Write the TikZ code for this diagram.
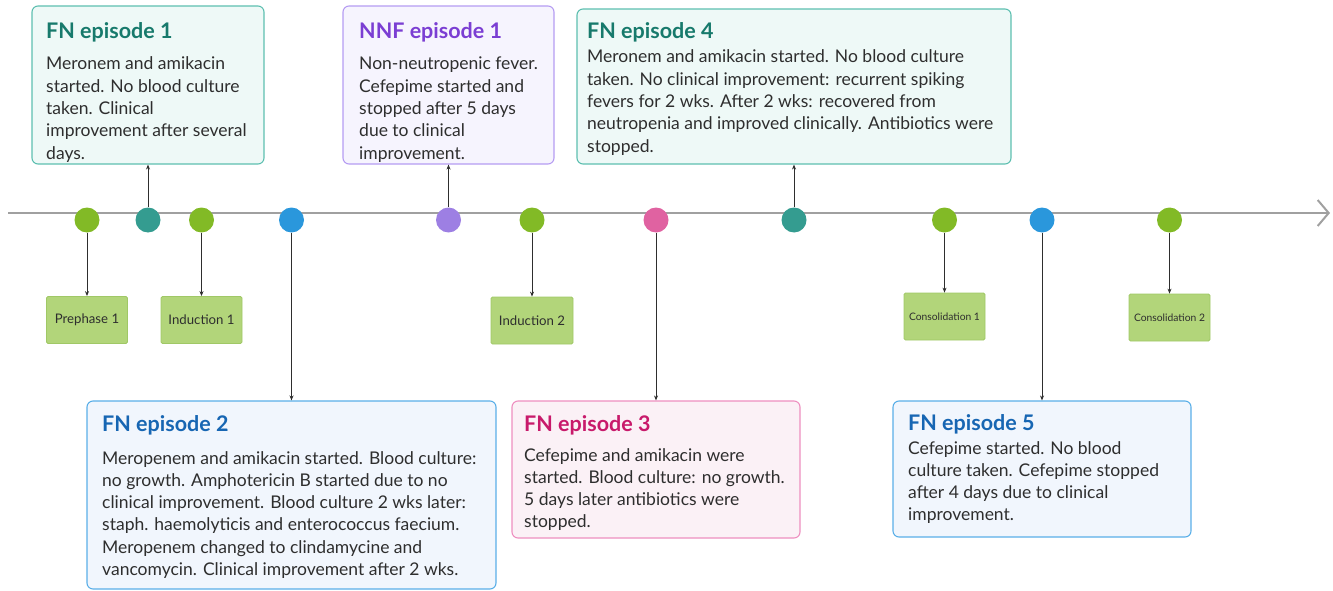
\documentclass[tikz,border=0pt]{standalone}
\usepackage{fontspec}
\setmainfont{Lato}
\usetikzlibrary{arrows.meta,calc}
\definecolor{cgreen}{HTML}{82BA26}
\definecolor{cteal}{HTML}{349C90}
\definecolor{cblue}{HTML}{2A97DC}
\definecolor{cpurple}{HTML}{9D7FE3}
\definecolor{cpink}{HTML}{E062A1}
\definecolor{sfill}{HTML}{B2D57A}
\definecolor{sdraw}{HTML}{A0C866}
\definecolor{tealB}{HTML}{5DBFB0}
\definecolor{tealF}{HTML}{EEF9F7}
\definecolor{tealT}{HTML}{177A6C}
\definecolor{purB}{HTML}{B59CF2}
\definecolor{purF}{HTML}{F6F4FE}
\definecolor{purT}{HTML}{7B3ED3}
\definecolor{bluB}{HTML}{5AAFE8}
\definecolor{bluF}{HTML}{F1F6FD}
\definecolor{bluT}{HTML}{1766B3}
\definecolor{pinB}{HTML}{EE8FC0}
\definecolor{pinF}{HTML}{FBF1F6}
\definecolor{pinT}{HTML}{C81A6B}
\definecolor{txt}{HTML}{2E2E2E}
\definecolor{axis}{HTML}{A0A0A0}
\newcommand{\mylines}[1]{\begin{tabular}[t]{@{}l@{}}#1\end{tabular}}
\tikzset{
  dot/.style={circle, inner sep=0pt, minimum size=25pt},
  ebox/.style={rectangle, rounded corners=6pt, line width=1.1pt, inner sep=0pt},
  phase/.style={rectangle, rounded corners=1.5pt, draw=sdraw, fill=sfill, line width=0.8pt,
    minimum width=81pt, minimum height=47pt, inner sep=0pt, text=txt},
  ttl/.style={anchor=base west, inner sep=0pt, font=\fontsize{21.5}{25}\selectfont\bfseries},
  body/.style={anchor=base west, inner sep=0pt, text=txt, font=\fontsize{17.5}{22.3}\selectfont},
  conn/.style={draw=txt, line width=1pt, -{Stealth[length=5pt,width=4pt]}},
}
\begin{document}
\begin{tikzpicture}[x=1pt,y=-1pt]
\useasboundingbox (0,0) rectangle (1333,591);
% timeline
\coordinate (t0) at (8,213);
\coordinate (t1) at (1330,213);
\draw[axis, line width=2.6pt, -{Straight Barb[length=11pt,width=26pt,line width=2pt]}] (t0) -- (t1);
% dots
\node[dot, fill=cgreen] (d1) at (87,220) {};
\node[dot, fill=cteal] (d2) at (148,220) {};
\node[dot, fill=cgreen] (d3) at (201.5,220) {};
\node[dot, fill=cblue] (d4) at (291.5,220) {};
\node[dot, fill=cpurple] (d5) at (448.5,220) {};
\node[dot, fill=cgreen] (d6) at (532,220) {};
\node[dot, fill=cpink] (d7) at (656,220) {};
\node[dot, fill=cteal] (d8) at (794,220) {};
\node[dot, fill=cgreen] (d9) at (944.5,220) {};
\node[dot, fill=cblue] (d10) at (1042,220) {};
\node[dot, fill=cgreen] (d11) at (1169.5,220) {};
% phase boxes
\node[phase, font=\fontsize{13.2}{15}\selectfont] (p1) at (87,320) {Prephase 1};
\node[phase, font=\fontsize{13.2}{15}\selectfont] (p2) at (201.5,320) {Induction 1};
\node[phase, font=\fontsize{13.2}{15}\selectfont, minimum width=82pt] (p3) at (532,320.5) {Induction 2};
\node[phase, font=\fontsize{10.3}{12}\selectfont] (p4) at (944.5,316.5) {Consolidation 1};
\node[phase, font=\fontsize{10.3}{12}\selectfont] (p5) at (1169.5,317.5) {Consolidation 2};
% episode boxes
\node[ebox, draw=tealB, fill=tealF, minimum width=232pt, minimum height=158pt] (e1) at (148,85) {};
\node[ebox, draw=purB, fill=purF, minimum width=211pt, minimum height=158pt] (e6) at (448.5,85) {};
\node[ebox, draw=tealB, fill=tealF, minimum width=434pt, minimum height=155pt] (e4) at (794,86.5) {};
\node[ebox, draw=bluB, fill=bluF, minimum width=409pt, minimum height=188pt] (e2) at (291.5,495) {};
\node[ebox, draw=pinB, fill=pinF, minimum width=288pt, minimum height=137pt] (e3) at (656,469.5) {};
\node[ebox, draw=bluB, fill=bluF, minimum width=298pt, minimum height=136pt] (e5) at (1042,469) {};
% texts
\node[ttl, text=tealT] (e1t) at (46,39) {FN episode 1};
\node[body] (e1b) at (46,70) {\mylines{Meronem and amikacin\\started. No blood culture\\taken. Clinical\\improvement after several\\days.}};
\node[ttl, text=purT] (e6t) at (359,39) {NNF episode 1};
\node[body] (e6b) at (359,70) {\mylines{Non-neutropenic fever.\\Cefepime started and\\stopped after 5 days\\due to clinical\\improvement.}};
\node[ttl, text=tealT] (e4t) at (587,39) {FN episode 4};
\node[body] (e4b) at (587,63) {\mylines{Meronem and amikacin started. No blood culture\\taken. No clinical improvement: recurrent spiking\\fevers for 2 wks. After 2 wks: recovered from\\neutropenia and improved clinically. Antibiotics were\\stopped.}};
\node[ttl, text=bluT] (e2t) at (102,431) {FN episode 2};
\node[body] (e2b) at (102,464) {\mylines{Meropenem and amikacin started. Blood culture:\\no growth. Amphotericin B started due to no\\clinical improvement. Blood culture 2 wks later:\\staph. haemolyticis and enterococcus faecium.\\Meropenem changed to clindamycine and\\vancomycin. Clinical improvement after 2 wks.}};
\node[ttl, text=pinT] (e3t) at (524,431) {FN episode 3};
\node[body] (e3b) at (524,461) {\mylines{Cefepime and amikacin were\\started. Blood culture: no growth.\\5 days later antibiotics were\\stopped.}};
\node[ttl, text=bluT] (e5t) at (908,430) {FN episode 5};
\node[body] (e5b) at (908,454) {\mylines{Cefepime started. No blood\\culture taken. Cefepime stopped\\after 4 days due to clinical\\improvement.}};
% connectors
\draw[conn] (d1) -- (p1);
\draw[conn] (d3) -- (p2);
\draw[conn] (d6) -- (p3);
\draw[conn] (d9) -- (p4);
\draw[conn] (d11) -- (p5);
\draw[conn] (d2) -- (e1);
\draw[conn] (d5) -- (e6);
\draw[conn] (d8) -- (e4);
\draw[conn] (d4) -- (e2);
\draw[conn] (d7) -- (e3);
\draw[conn] (d10) -- (e5);
\end{tikzpicture}
\end{document}
